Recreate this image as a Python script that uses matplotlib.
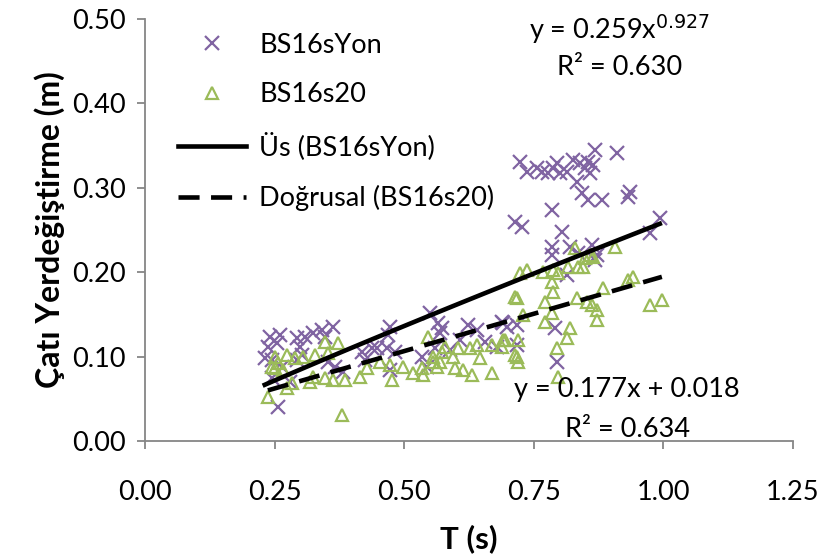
import numpy as np
import matplotlib
matplotlib.use('Agg')
from matplotlib import pyplot as plt

# ---- Daten ----
yon_T = [0.241, 0.260, 0.237, 0.255, 0.231, 0.245, 0.293, 0.299, 0.309, 0.324,
         0.341, 0.363, 0.347, 0.303, 0.293, 0.257, 0.280, 0.245, 0.264, 0.353,
         0.367, 0.382, 0.419, 0.424,
         0.550, 0.565, 0.573, 0.569, 0.473, 0.469, 0.448, 0.467, 0.482, 0.473,
         0.534, 0.544, 0.559, 0.623, 0.640, 0.656, 0.689, 0.698, 0.679, 0.608,
         0.588, 0.438,
         0.723, 0.737, 0.756, 0.766, 0.777, 0.787, 0.795, 0.801, 0.814, 0.826,
         0.839, 0.849, 0.855, 0.864, 0.858, 0.868, 0.910, 0.833, 0.843, 0.855,
         0.882, 0.936, 0.932, 0.785, 0.714, 0.727, 0.804, 0.993, 0.974, 0.785,
         0.785, 0.820, 0.835, 0.862, 0.872,
         0.791, 0.795, 0.691, 0.718, 0.718, 0.868, 0.814]
yon_d = [0.123, 0.126, 0.111, 0.116, 0.098, 0.096, 0.122, 0.111, 0.123, 0.128,
         0.132, 0.135, 0.123, 0.102, 0.096, 0.040, 0.070, 0.075, 0.088, 0.094,
         0.088, 0.082, 0.105, 0.096,
         0.152, 0.140, 0.134, 0.128, 0.135, 0.126, 0.110, 0.110, 0.105, 0.084,
         0.100, 0.088, 0.110, 0.137, 0.132, 0.117, 0.141, 0.135, 0.111, 0.120,
         0.108, 0.110,
         0.331, 0.319, 0.323, 0.319, 0.318, 0.323, 0.329, 0.318, 0.319, 0.333,
         0.329, 0.323, 0.331, 0.327, 0.318, 0.345, 0.341, 0.307, 0.294, 0.286,
         0.286, 0.295, 0.289, 0.274, 0.259, 0.254, 0.248, 0.264, 0.246, 0.230,
         0.220, 0.230, 0.223, 0.232, 0.220,
         0.134, 0.094, 0.140, 0.137, 0.114, 0.214, 0.197]

s20_T = [0.251, 0.257, 0.245, 0.274, 0.289, 0.305, 0.328, 0.347, 0.372, 0.353,
         0.251, 0.284, 0.274, 0.318, 0.324, 0.347, 0.363, 0.386, 0.237, 0.380,
         0.415, 0.428, 0.266,
         0.546, 0.579, 0.573, 0.569, 0.563, 0.556, 0.594, 0.604, 0.627, 0.646,
         0.640, 0.669, 0.689, 0.694, 0.718, 0.714, 0.453, 0.473, 0.476, 0.498,
         0.517, 0.534, 0.536, 0.613, 0.631, 0.669, 0.598, 0.556,
         0.829, 0.907, 0.864, 0.858, 0.849, 0.723, 0.737, 0.768, 0.787, 0.797,
         0.816, 0.835, 0.845, 0.785, 0.787, 0.718, 0.772, 0.785, 0.772, 0.729,
         0.833, 0.853, 0.862, 0.872, 0.872, 0.883, 0.932, 0.941, 0.974, 0.997,
         0.820, 0.814, 0.795, 0.720, 0.714, 0.720, 0.691, 0.797]
s20_d = [0.100, 0.092, 0.088, 0.102, 0.098, 0.100, 0.102, 0.117, 0.116, 0.104,
         0.086, 0.069, 0.063, 0.070, 0.076, 0.075, 0.072, 0.072, 0.052, 0.031,
         0.076, 0.086, 0.084,
         0.123, 0.111, 0.105, 0.094, 0.088, 0.094, 0.100, 0.110, 0.110, 0.098,
         0.114, 0.114, 0.111, 0.120, 0.100, 0.171, 0.094, 0.090, 0.072, 0.088,
         0.081, 0.086, 0.078, 0.084, 0.078, 0.081, 0.086, 0.100,
         0.229, 0.230, 0.218, 0.220, 0.217, 0.199, 0.203, 0.200, 0.203, 0.199,
         0.206, 0.206, 0.206, 0.188, 0.177, 0.169, 0.165, 0.152, 0.141, 0.149,
         0.169, 0.165, 0.161, 0.155, 0.143, 0.181, 0.191, 0.194, 0.161, 0.167,
         0.134, 0.122, 0.110, 0.120, 0.102, 0.094, 0.120, 0.076]

# Trendlinien (Koeffizienten aus dem Diagramm)
pow_a, pow_b = 0.259, 0.927
lin_m, lin_c = 0.177, 0.018

lila = '#8064A2'
gruen = '#9BBB59'
grau = '#868686'
fs = 19.5

plt.rcParams['font.family'] = ['Lato', 'DejaVu Sans']

fig = plt.figure(figsize=(8.24, 5.58), dpi=100)
ax = fig.add_axes([0.176, 0.2097, 0.7864, 0.7563])

ax.plot(yon_T, yon_d, 'x', color=lila, ms=9.5, mew=1.6, label='BS16sYon', clip_on=False)
ax.plot(s20_T, s20_d, '^', color=gruen, ms=8.5, mew=1.6, fillstyle='none',
        label='BS16s20', clip_on=False)

tx = np.linspace(min(yon_T), max(yon_T), 100)
ax.plot(tx, pow_a * tx ** pow_b, color='black', lw=3.3, label='Üs (BS16sYon)')
tx2 = np.linspace(min(s20_T), max(s20_T), 100)
ax.plot(tx2, lin_m * tx2 + lin_c, color='black', lw=3.3, dashes=(4.6, 2.5),
        label='Doğrusal (BS16s20)')

ax.set_xlim(0, 1.25)
ax.set_ylim(0, 0.5)
ax.set_xticks(np.arange(0, 1.26, 0.25))
ax.set_yticks(np.arange(0, 0.51, 0.1))
ax.xaxis.set_major_formatter(matplotlib.ticker.FormatStrFormatter('%.2f'))
ax.yaxis.set_major_formatter(matplotlib.ticker.FormatStrFormatter('%.2f'))

for s in ['top', 'right']:
    ax.spines[s].set_visible(False)
for s in ['left', 'bottom']:
    ax.spines[s].set_color(grau)
    ax.spines[s].set_linewidth(1.3)
ax.tick_params(direction='out', length=6, width=1.3, color=grau, labelsize=fs)
ax.tick_params(axis='x', pad=22)
ax.tick_params(axis='y', pad=8)

ax.set_xlabel('T (s)', fontsize=22.5, fontweight='bold', labelpad=14)
ax.set_ylabel('Çatı Yerdeğiştirme (m)', fontsize=23, fontweight='bold', labelpad=5)

ax.text(0.915, 0.488, 'y = 0.259x$^{0.927}$', fontsize=fs, ha='center', va='center')
ax.text(0.915, 0.443, 'R² = 0.630', fontsize=fs, ha='center', va='center')
ax.text(0.93, 0.061, 'y = 0.177x + 0.018', fontsize=fs, ha='center', va='center')
ax.text(0.93, 0.014, 'R² = 0.634', fontsize=fs, ha='center', va='center')

ax.legend(loc='upper left', bbox_to_anchor=(0.03, 1.0), frameon=False, fontsize=fs,
          handlelength=2.5, labelspacing=0.92, handletextpad=0.5, numpoints=1,
          borderaxespad=0.1)

fig.savefig('out.png', dpi=100)
